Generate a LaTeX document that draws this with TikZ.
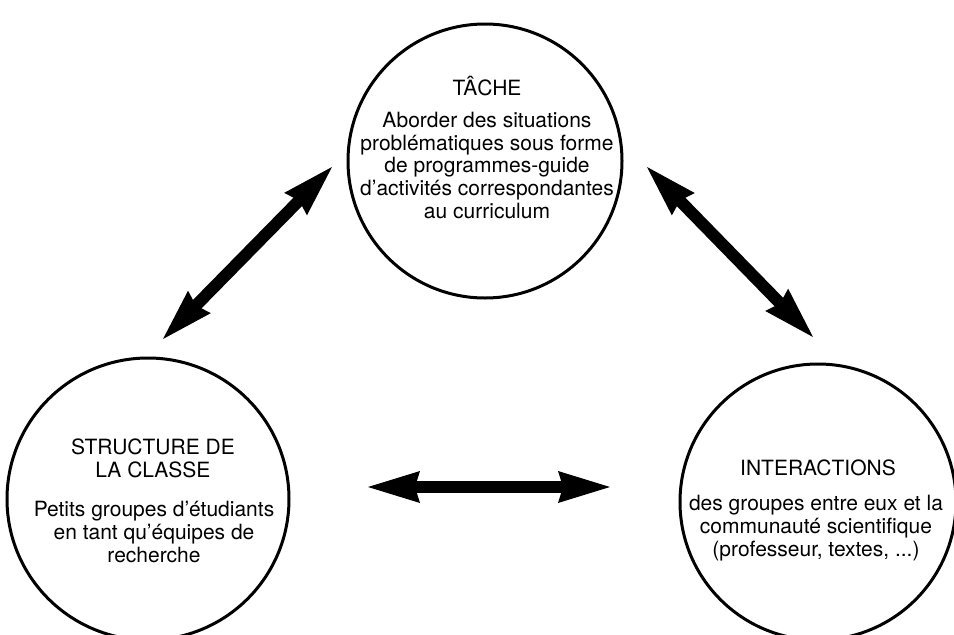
\documentclass[tikz,border=0pt]{standalone}
\usepackage{fontspec}
\setmainfont{TeX Gyre Heros}
\usetikzlibrary{arrows.meta}
\tikzset{
  ring/.style={draw, circle, line width=3pt, inner sep=0pt},
  headtxt/.style={anchor=base, align=center, inner sep=0pt, font=\fontsize{21}{22.6}\selectfont},
  bodytxt/.style={anchor=base, align=center, inner sep=0pt, font=\fontsize{21}{22.6}\selectfont},
  bigarrow/.style={line width=12pt,
    {Stealth[length=52pt,width=32pt,inset=5pt,line width=0pt]}-{Stealth[length=52pt,width=32pt,inset=5pt,line width=0pt]}}
}
\begin{document}
\begin{tikzpicture}[x=1pt,y=-1pt]
\useasboundingbox (0,0) rectangle (954,635);
% circles
\node[ring, minimum size=274pt] (tache) at (485,161) {};
\node[ring, minimum size=282pt] (struct) at (148,499) {};
\node[ring, minimum size=276pt] (inter) at (818,502) {};
% texts (base = baseline of the last line)
\node[headtxt] (tacheH) at (487,95) {TÂCHE};
\node[bodytxt] (tacheB) at (487,218) {Aborder des situations\\problématiques sous forme\\de programmes-guide\\d’activités correspondantes\\au curriculum};
\node[headtxt] (structH) at (153,477) {STRUCTURE DE\\LA CLASSE};
\node[bodytxt] (structB) at (154,562) {Petits groupes d’étudiants\\en tant qu’équipes de\\recherche};
\node[headtxt] (interH) at (818,475) {INTERACTIONS};
\node[bodytxt] (interB) at (816,556) {des groupes entre eux et la\\communauté scientifique\\(professeur, textes, ...)};
% arrow ends
\coordinate (a1) at (163,339);
\coordinate (a2) at (332,167);
\coordinate (b1) at (647,167);
\coordinate (b2) at (813,337);
\coordinate (c1) at (368,487);
\coordinate (c2) at (610,487);
\draw[bigarrow] (a1) -- (a2);
\draw[bigarrow] (b1) -- (b2);
\draw[bigarrow] (c1) -- (c2);
\end{tikzpicture}
\end{document}
